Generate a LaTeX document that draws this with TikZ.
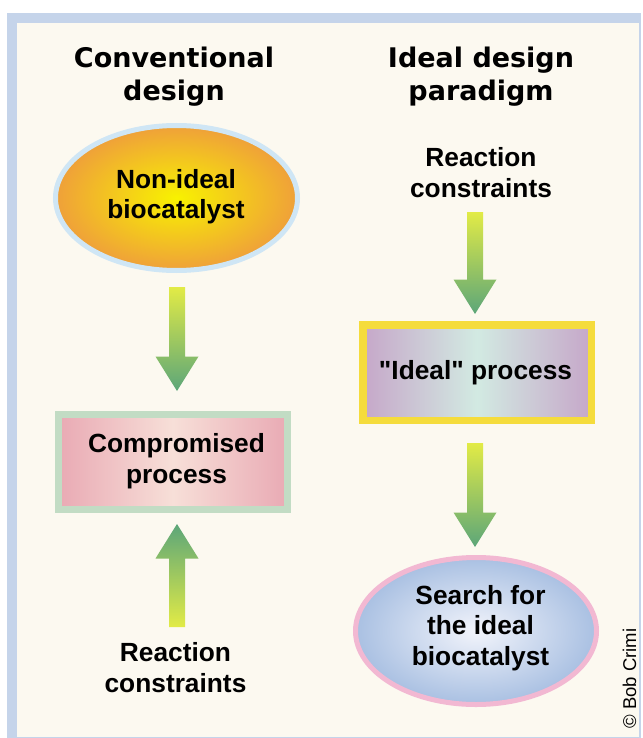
\documentclass[tikz,border=0pt]{standalone}
\usepackage{fontspec}
\setmainfont{Liberation Sans}
\newfontfamily\bodyfont{Liberation Sans}
\newfontfamily\titlefont{DejaVu Sans}
\usetikzlibrary{calc,shapes.geometric}
\definecolor{frameblue}{HTML}{C5D4EA}
\definecolor{cream}{HTML}{FCF9F0}
\definecolor{ellAedge}{HTML}{CFE6F5}
\definecolor{ellAin}{HTML}{F8F200}
\definecolor{ellAout}{HTML}{EFA03A}
\definecolor{ellBedge}{HTML}{F2B8D2}
\definecolor{ellBin}{HTML}{F2F4FB}
\definecolor{ellBout}{HTML}{A9C0E2}
\definecolor{boxAedge}{HTML}{C2DCC4}
\definecolor{boxAside}{HTML}{E9AAB4}
\definecolor{boxAmid}{HTML}{F7DFD8}
\definecolor{boxBedge}{HTML}{F5DC3C}
\definecolor{boxBside}{HTML}{C6A7C9}
\definecolor{boxBmid}{HTML}{D2EAE2}
\definecolor{arrY}{HTML}{E2EB46}
\definecolor{arrG}{HTML}{5CA679}
\newcommand\blockarrow[3]{%
  \coordinate (BAh) at ($(#3)!34.5pt!(#2)$);
  \shade[#1] ($(#2)!8pt!90:(#3)$) -- ($(BAh)!8pt!90:(#3)$) -- ($(BAh)!21.5pt!90:(#3)$)
    -- (#3) -- ($(BAh)!21.5pt!-90:(#3)$) -- ($(BAh)!8pt!-90:(#3)$) -- ($(#2)!8pt!-90:(#3)$) -- cycle;
}
\begin{document}
\begin{tikzpicture}[x=1pt,y=-1pt,
  title/.style={inner sep=0pt, align=center, font={\titlefont\fontsize{27}{33}\selectfont\bfseries}},
  body/.style={inner sep=0pt, align=center, font={\bodyfont\fontsize{26.3}{30.5}\selectfont\bfseries}},
  ellA/.style={ellipse, inner sep=0pt, minimum width=242pt, minimum height=145pt,
    draw=ellAedge, line width=5pt, inner color=ellAin, outer color=ellAout},
  ellB/.style={ellipse, inner sep=0pt, minimum width=241pt, minimum height=147pt,
    draw=ellBedge, line width=5pt, inner color=ellBin, outer color=ellBout},
  boxA/.style={rectangle, inner sep=0pt, minimum width=229pt, minimum height=95pt,
    draw=boxAedge, line width=7pt, left color=boxAside, right color=boxAside, middle color=boxAmid},
  boxB/.style={rectangle, inner sep=0pt, minimum width=228.5pt, minimum height=95.5pt,
    draw=boxBedge, line width=7.5pt, left color=boxBside, right color=boxBside, middle color=boxBmid},
  downarrow/.style={top color=arrY, bottom color=arrG},
  uparrow/.style={top color=arrG, bottom color=arrY}
]
\useasboundingbox (0,0) rectangle (642,738);
\fill[white] (0,0) rectangle (642,738);
\fill[frameblue] (7,13) rectangle (641,738);
\fill[cream] (17,23) rectangle (639,737);

% titles
\node[title] (t1) at (174,76.5) {Conventional\\design};
\node[title] (t2) at (481,76.5) {Ideal design\\paradigm};

% left column
\node[ellA] (ell1) at (176.5,198) {};
\node[body] (ell1t) at (176,196.5) {Non-ideal\\biocatalyst};
\node[boxA] (box1) at (173,462) {};
\node[body] (box1t) at (176.5,461) {Compromised\\process};
\node[body] (rc1) at (175.5,667.5) {Reaction\\constraints};

% right column
\node[body] (rc2) at (481,172.5) {Reaction\\constraints};
\node[boxB] (box2) at (477,372.5) {};
\node[body] (box2t) at (475.5,372.5) {"Ideal" process};
\node[ellB] (ell2) at (476,631) {};
\node[body] (ell2t) at (480.5,628) {Search for\\the ideal\\biocatalyst};

% block arrows
\coordinate (a1s) at (177,287);  \coordinate (a1e) at (177,391);
\coordinate (a2s) at (177,627);  \coordinate (a2e) at (177,524);
\coordinate (a3s) at (475,212);  \coordinate (a3e) at (475,314);
\coordinate (a4s) at (475,443);  \coordinate (a4e) at (475,547);
\blockarrow{downarrow}{a1s}{a1e}
\blockarrow{uparrow}{a2s}{a2e}
\blockarrow{downarrow}{a3s}{a3e}
\blockarrow{downarrow}{a4s}{a4e}

% credit
\node[rotate=90, inner sep=0pt, font=\bodyfont\fontsize{18.5}{18.5}\selectfont] (credit) at (629.5,678.5) {© Bob Crimi};
\end{tikzpicture}
\end{document}
